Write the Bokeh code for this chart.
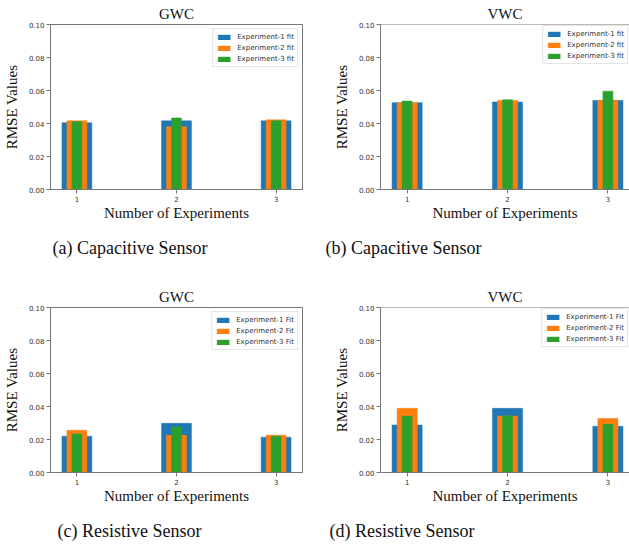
from bokeh.plotting import figure
from bokeh.layouts import column, row
from bokeh.models import ColumnDataSource, FixedTicker, Range1d, Span, Title
from bokeh.embed import file_html
from bokeh.resources import INLINE

# ---------------- data ----------------
experiments = [1, 2, 3]
x_tick_labels = ["1", "2", "3"]
y_ticks = [0.0, 0.02, 0.04, 0.06, 0.08, 0.10]
y_tick_labels = ["0.00", "0.02", "0.04", "0.06", "0.08", "0.10"]

top_series_labels = ["Experiment-1 fit", "Experiment-2 fit", "Experiment-3 fit"]
bottom_series_labels = ["Experiment-1 Fit", "Experiment-2 Fit", "Experiment-3 Fit"]

# (a) Capacitive sensor, GWC
cap_gwc_exp1 = [0.0405, 0.0416, 0.0416]
cap_gwc_exp2 = [0.0416, 0.0380, 0.0422]
cap_gwc_exp3 = [0.0411, 0.0434, 0.0416]
# (b) Capacitive sensor, VWC
cap_vwc_exp1 = [0.0526, 0.0530, 0.0540]
cap_vwc_exp2 = [0.0526, 0.0540, 0.0540]
cap_vwc_exp3 = [0.0536, 0.0544, 0.0596]
# (c) Resistive sensor, GWC
res_gwc_exp1 = [0.0220, 0.0298, 0.0214]
res_gwc_exp2 = [0.0256, 0.0226, 0.0226]
res_gwc_exp3 = [0.0234, 0.0276, 0.0220]
# (d) Resistive sensor, VWC
res_vwc_exp1 = [0.0288, 0.0389, 0.0280]
res_vwc_exp2 = [0.0389, 0.0342, 0.0328]
res_vwc_exp3 = [0.0342, 0.0342, 0.0292]

panel_titles = ["GWC", "VWC", "GWC", "VWC"]
captions = ["(a) Capacitive Sensor", "(b) Capacitive Sensor",
            "(c) Resistive Sensor", "(d) Resistive Sensor"]

# ---------------- styling ----------------
COLORS = ["#1f77b4", "#ff7f0e", "#2ca02c"]
BAR_WIDTHS = [0.3, 0.2, 0.1]
SERIF = "Liberation Serif"
SANS = "DejaVu Sans"
SPINE = "#777777"
PX_PER_UNIT = 254 / 2.53
FRAME_H = 166
BORDER_TOP = 23


def make_panel(title, series, labels, caption, right_col, fig_h, cap_offset):
    if right_col:
        w, bl, br = 309, 60, 0
    else:
        w, bl, br = 320, 48, 18
    frame_w = w - bl - br
    x0 = 0.735
    x1 = x0 + frame_w / PX_PER_UNIT
    p = figure(width=w, height=fig_h, output_backend="svg", toolbar_location=None,
               x_range=Range1d(x0, x1), y_range=Range1d(0, 0.1),
               min_border_left=bl, min_border_right=br,
               min_border_top=BORDER_TOP,
               min_border_bottom=fig_h - BORDER_TOP - FRAME_H)
    p.title.text = title
    p.title.align = "center"
    p.title.text_font = SERIF
    p.title.text_font_size = "15px"
    p.title.text_font_style = "normal"
    p.title.text_color = "#111111"
    p.title.standoff = 6

    for vals, lab, col, bw in zip(series, labels, COLORS, BAR_WIDTHS):
        src = ColumnDataSource(dict(x=experiments, top=vals))
        p.vbar(x="x", top="top", width=bw, source=src, fill_color=col,
               line_color=col, line_width=0.5, legend_label=lab)

    p.xgrid.visible = False
    p.ygrid.visible = False
    if right_col:
        p.outline_line_color = None
        p.add_layout(Span(location=0.1, dimension="width", line_color=SPINE,
                          line_width=1))
    else:
        p.outline_line_color = SPINE
        p.outline_line_width = 1

    p.xaxis.ticker = FixedTicker(ticks=experiments)
    p.xaxis.major_label_overrides = {k: v for k, v in zip(experiments, x_tick_labels)}
    p.yaxis.ticker = FixedTicker(ticks=y_ticks)
    p.yaxis.major_label_overrides = {k: v for k, v in zip(y_ticks, y_tick_labels)}

    for ax in (p.xaxis[0], p.yaxis[0]):
        ax.axis_line_color = SPINE
        ax.major_tick_line_color = SPINE
        ax.major_tick_in = 0
        ax.major_tick_out = 4
        ax.minor_tick_line_color = None
        ax.major_label_text_font = SANS
        ax.major_label_text_font_size = "7px"
        ax.major_label_text_color = "#333333"
        ax.major_label_standoff = 2
        ax.axis_label_text_font = SERIF
        ax.axis_label_text_font_size = "15px"
        ax.axis_label_text_font_style = "normal"
        ax.axis_label_text_color = "#111111"
    p.xaxis.axis_label_standoff = 0
    p.yaxis.axis_label_standoff = 6
    p.xaxis.axis_label = "Number of Experiments"
    p.yaxis.axis_label = "RMSE Values"

    lg = p.legend[0]
    lg.location = "top_right"
    lg.margin = 1 if right_col else 4
    lg.padding = 3
    lg.spacing = 2
    lg.label_height = 9
    lg.glyph_height = 6
    lg.glyph_width = 15
    lg.label_standoff = 6
    lg.label_text_font = SANS
    lg.label_text_font_size = "7px"
    lg.label_text_color = "#333333"
    lg.border_line_color = "#cccccc"
    lg.border_line_width = 1
    lg.background_fill_alpha = 0.8

    # blank spacer between the axis label and the sub-figure caption
    p.add_layout(Title(text=" ", text_font=SERIF, text_font_size="9px",
                       standoff=0), "below")
    p.add_layout(Title(text=caption, align="left", offset=cap_offset,
                       text_font=SERIF, text_font_size="18px",
                       text_font_style="normal", text_color="#111111",
                       standoff=0), "below")
    return p


H1 = 283
H2 = 544 - H1
pa = make_panel(panel_titles[0], [cap_gwc_exp1, cap_gwc_exp2, cap_gwc_exp3],
                top_series_labels, captions[0], False, H1, 2)
pb = make_panel(panel_titles[1], [cap_vwc_exp1, cap_vwc_exp2, cap_vwc_exp3],
                top_series_labels, captions[1], True, H1, -55)
pc = make_panel(panel_titles[2], [res_gwc_exp1, res_gwc_exp2, res_gwc_exp3],
                bottom_series_labels, captions[2], False, H2, 7)
pd = make_panel(panel_titles[3], [res_vwc_exp1, res_vwc_exp2, res_vwc_exp3],
                bottom_series_labels, captions[3], True, H2, -51)

layout = column(row(pa, pb), row(pc, pd))
open("out.html", "w").write(file_html(layout, INLINE))
